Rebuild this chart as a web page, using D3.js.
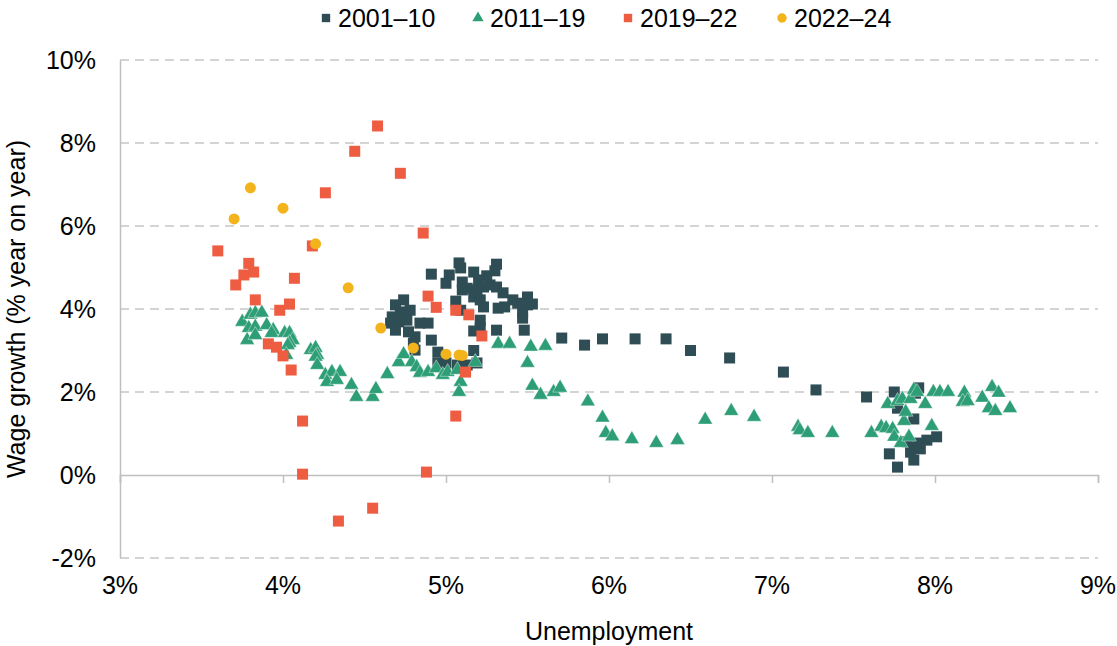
<!DOCTYPE html>
<html>
<head>
<meta charset="utf-8">
<script src="https://cdn.jsdelivr.net/npm/d3@7"></script>
<style>
  body { margin: 0; background: #fff; }
  svg { font-family: Arial, "Liberation Sans", sans-serif; }
</style>
</head>
<body>
<svg width="1117" height="646"></svg>
<script>
// [unemployment %, wage growth %]
const s2001 = [
  [4.91,4.84],[5.08,5.11],[5.09,4.99],[5.02,4.82],[5.0,4.62],[5.17,4.89],[5.31,5.08],[5.30,4.92],
  [5.25,4.8],[5.2,4.7],[5.10,4.65],[5.13,4.5],[5.10,4.46],[5.19,4.46],[5.23,4.53],[5.27,4.58],
  [5.31,4.53],[5.35,4.39],[5.17,4.29],[5.21,4.22],[5.06,4.19],[5.09,3.97],[5.23,4.05],[5.32,4.02],
  [5.36,4.05],[5.41,4.22],[5.44,4.14],[5.5,4.29],[5.5,4.1],[5.53,4.12],[5.47,3.93],[5.47,3.78],
  [5.48,3.49],[5.31,3.49],[5.21,3.73],[5.21,3.54],[5.17,3.47],[5.17,3.0],[5.19,2.7],[4.91,3.25],
  [4.95,2.96],[4.95,2.70],[5.0,2.70],[5.07,2.65],[5.13,2.65],[4.74,4.22],[4.69,4.1],[4.72,3.93],
  [4.78,3.97],[4.67,3.81],[4.66,3.66],[4.71,3.69],[4.76,3.73],[4.69,3.49],[4.77,3.45],[4.81,3.33],
  [4.84,3.66],[4.89,3.66],[4.80,3.18],[4.81,3.01],
  [5.71,3.3],[5.85,3.13],[5.96,3.28],[6.16,3.28],[6.35,3.28],[6.50,3.0],[6.74,2.82],[7.07,2.48],
  [7.27,2.05],[7.58,1.88],[7.75,2.0],[7.9,2.1],[7.88,1.97],[7.77,1.61],[7.87,1.35],[7.72,0.51],
  [7.77,0.19],[7.87,0.36],[7.83,0.8],[7.86,0.67],[7.9,0.77],[7.95,0.84],[8.01,0.92],[7.91,0.63],[7.85,0.55]
];
const s2011 = [
  [3.75,3.69],[3.80,3.86],[3.83,3.9],[3.87,3.91],[3.79,3.54],[3.83,3.57],[3.78,3.25],[3.83,3.37],
  [3.90,3.61],[3.94,3.49],[3.93,3.42],[4.01,3.42],[4.04,3.42],[4.06,3.25],[4.04,3.18],[4.03,3.13],
  [4.02,2.89],[4.17,3.01],[4.2,3.06],[4.21,2.89],[4.2,2.85],[4.21,2.65],[4.26,2.41],[4.30,2.48],
  [4.35,2.48],[4.27,2.24],[4.33,2.29],[4.42,2.17],[4.45,1.88],[4.55,1.88],[4.57,2.07],[4.64,2.43],
  [4.71,2.72],[4.74,2.91],[4.79,2.72],[4.82,2.6],[4.84,2.46],[4.89,2.48],[4.94,2.57],[4.98,2.41],
  [5.01,2.48],[5.07,2.53],[5.09,2.24],[5.08,2.0],[5.18,2.72],[5.32,3.16],[5.39,3.16],[5.52,3.09],
  [5.61,3.11],[5.5,2.7],[5.53,2.15],[5.58,1.93],[5.66,2.0],[5.7,2.1],[5.87,1.77],[5.96,1.38],
  [5.98,1.01],[6.02,0.93],[6.14,0.86],[6.29,0.77],[6.42,0.84],[6.59,1.33],[6.75,1.54],[6.89,1.4],
  [7.16,1.16],[7.17,1.08],[7.22,1.01],[7.37,1.01],[7.61,1.01],[7.67,1.16],[7.7,1.13],[7.74,1.11],
  [7.75,0.92],[7.79,0.77],[7.84,0.92],[7.81,1.3],[7.82,1.52],[7.98,1.18],[7.71,1.71],[7.77,1.78],
  [7.8,1.83],[7.85,1.83],[7.87,2.05],[7.89,2.0],[7.94,1.71],[7.99,2.0],[8.03,2.0],[8.08,2.0],
  [8.18,1.98],[8.17,1.76],[8.2,1.78],[8.29,1.86],[8.35,2.12],[8.39,1.98],[8.33,1.61],[8.37,1.54],[8.46,1.61]
];
const s2019 = [
  [4.58,8.41],[4.44,7.8],[4.72,7.27],[4.26,6.8],[4.86,5.83],[3.60,5.4],[4.18,5.52],[3.79,5.1],
  [3.76,4.82],[3.82,4.89],[3.71,4.58],[4.07,4.74],[3.83,4.22],[3.98,3.97],[4.04,4.12],[4.89,4.31],
  [3.91,3.16],[3.96,3.08],[4.0,2.87],[4.05,2.53],[4.12,1.3],[4.12,0.02],[4.55,-0.8],[4.34,-1.11],
  [4.88,0.07],[5.06,1.42],[5.12,2.48],[5.22,3.35],[5.14,3.86],[5.06,3.97],[4.94,4.04]
];
const s2022 = [
  [3.80,6.92],[4.0,6.43],[3.70,6.17],[4.2,5.57],[4.40,4.51],[4.60,3.54],[4.80,3.06],[5.0,2.91],
  [5.08,2.89],[5.10,2.88]
];

const seriesNames = ["2001–10", "2011–19", "2019–22", "2022–24"];
const seriesData = [s2001, s2011, s2019, s2022];
const seriesColors = ["#2f4d54", "#2e9e77", "#ee5c41", "#f2b31c"];
const seriesShapes = [d3.symbolSquare, d3.symbolTriangle, d3.symbolSquare, d3.symbolCircle];
const seriesSizes = [121, 95, 121, 95];

const xTicks = [3, 4, 5, 6, 7, 8, 9];
const yTicks = [-2, 0, 2, 4, 6, 8, 10];

const svg = d3.select("svg");
const margin = {left: 120, right: 19, top: 60, bottom: 88};
const width = +svg.attr("width");
const height = +svg.attr("height");

const x = d3.scaleLinear().domain([3, 9]).range([margin.left, width - margin.right]);
const y = d3.scaleLinear().domain([-2, 10]).range([height - margin.bottom, margin.top]);

// gridlines
svg.append("g")
  .selectAll("line")
  .data(yTicks.filter(d => d !== 0))
  .enter().append("line")
  .attr("x1", x(3)).attr("x2", x(9))
  .attr("y1", d => y(d)).attr("y2", d => y(d))
  .attr("stroke", "#c6c6c6")
  .attr("stroke-width", 1.5)
  .attr("stroke-dasharray", "9,6");

// y axis
const yAxis = svg.append("g")
  .attr("transform", `translate(${x(3)},0)`)
  .call(d3.axisLeft(y).tickValues(yTicks).tickSize(0).tickPadding(24).tickFormat(d => d + "%"));
yAxis.select(".domain").attr("stroke", "#bfbfbf").attr("stroke-width", 1.5);
yAxis.selectAll("text").attr("font-size", 25).attr("fill", "#000").attr("font-family", "Arial, 'Liberation Sans', sans-serif");

// x axis along zero line
const xAxis = svg.append("g")
  .attr("transform", `translate(0,${y(0)})`)
  .call(d3.axisBottom(x).tickValues(xTicks).tickSize(8).tickFormat(() => ""));
xAxis.select(".domain").attr("stroke", "#bfbfbf").attr("stroke-width", 1.5);
xAxis.selectAll("line").attr("stroke", "#bfbfbf").attr("stroke-width", 1.5);

// x tick labels below the plot
svg.append("g")
  .selectAll("text")
  .data(xTicks)
  .enter().append("text")
  .attr("x", d => x(d))
  .attr("y", 594)
  .attr("text-anchor", "middle")
  .attr("font-size", 25)
  .text(d => d + "%");

svg.append("text")
  .attr("x", (x(3) + x(9)) / 2)
  .attr("y", 640)
  .attr("text-anchor", "middle")
  .attr("font-size", 25)
  .text("Unemployment");

svg.append("text")
  .attr("transform", `translate(25,${(y(-2) + y(10)) / 2}) rotate(-90)`)
  .attr("text-anchor", "middle")
  .attr("font-size", 25)
  .text("Wage growth (% year on year)");

// points
seriesData.forEach((data, i) => {
  const sym = d3.symbol().type(seriesShapes[i]).size(seriesSizes[i]);
  svg.append("g")
    .selectAll("path")
    .data(data)
    .enter().append("path")
    .attr("d", sym)
    .attr("transform", d => `translate(${x(d[0])},${y(d[1])})`)
    .attr("fill", seriesColors[i])
    .attr("stroke", i === 1 ? "#ffffff" : "none")
    .attr("stroke-opacity", 0.5)
    .attr("stroke-width", 0.8);
});

// legend
const legendX = [326, 478, 628, 782];
const legend = svg.append("g");
seriesNames.forEach((name, i) => {
  const sym = d3.symbol().type(seriesShapes[i]).size(i === 1 ? 55 : 70);
  legend.append("path")
    .attr("d", sym)
    .attr("transform", `translate(${legendX[i]},18)`)
    .attr("fill", seriesColors[i]);
  legend.append("text")
    .attr("x", legendX[i] + 12)
    .attr("y", 27)
    .attr("font-size", 25)
    .text(name);
});
</script>
</body>
</html>
